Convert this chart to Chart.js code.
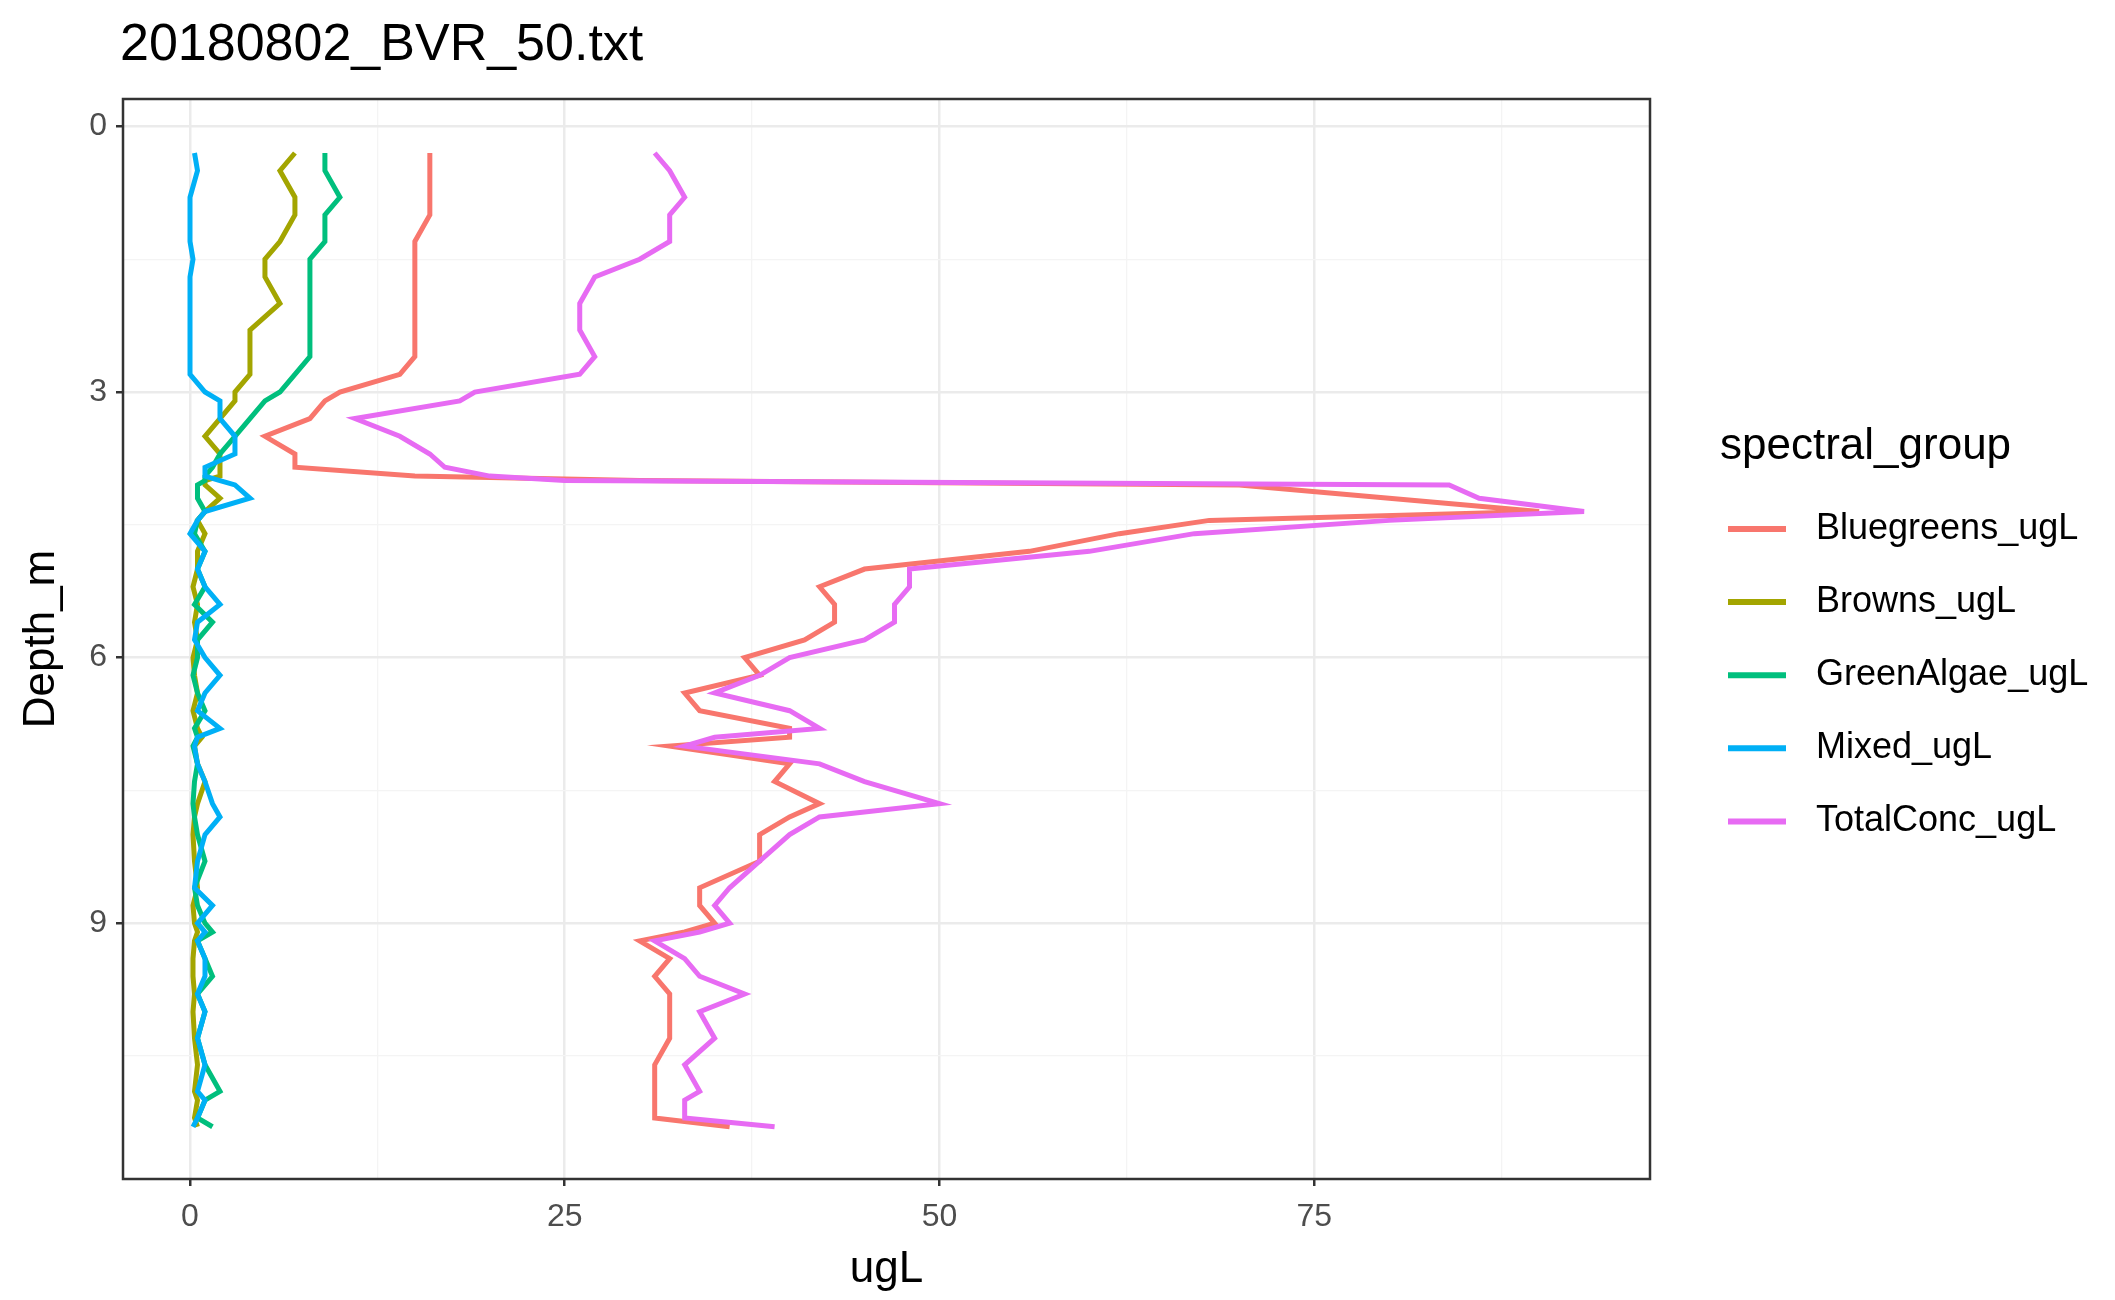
<!DOCTYPE html>
<html><head><meta charset="utf-8">
<script src="https://cdn.jsdelivr.net/npm/chart.js@4"></script>
<style>html,body{margin:0;padding:0;background:#fff}#c{display:block}</style>
</head><body><canvas id="c" width="2115" height="1300"></canvas>
<script>
const depth=[0.3,0.5,0.8,1.0,1.3,1.5,1.7,2.0,2.3,2.6,2.8,3.0,3.1,3.3,3.5,3.7,3.85,3.95,4.0,4.05,4.2,4.35,4.45,4.6,4.8,5.0,5.2,5.4,5.6,5.8,6.0,6.2,6.4,6.6,6.8,6.9,7.0,7.2,7.4,7.65,7.8,8.0,8.3,8.6,8.8,9.0,9.1,9.2,9.4,9.6,9.8,10.0,10.3,10.6,10.9,11.0,11.2,11.3];
const bluegreens=[16,16,16,16,15,15,15,15,15,15,14,10,9,8,5,7,7,15,30,70,80,90,68,62,56,45,42,43,43,41,37,38,33,34,40,40,32,40,39,42,40,38,38,34,34,35,33,30,32,31,32,32,32,31,31,31,31,36];
const browns=[7,6,7,7,6,5,5,6,4,4,4,3,3,2,1,2,2,2,1,1,2,1,0.5,1,0.5,0.5,0.2,0.5,0.3,0.5,0.2,0.3,0.5,0.2,0.5,0.8,0.3,0.5,1,0.5,0.3,0.2,0.3,0.5,0.2,0.3,0.5,0.3,0.2,0.2,0.3,0.2,0.3,0.5,0.3,0.5,0.3,0.5];
const greenAlgae=[9,9,10,9,9,8,8,8,8,8,7,6,5,4,3,2,1.5,1,1,0.5,0.5,1,0.5,0.3,1,0.5,1,0.3,1.5,0.5,0.5,0.2,0.5,1,0.3,0.5,0.2,0.5,0.3,0.2,0.3,0.5,1,0.3,0.5,1,1.5,0.5,1,1.5,0.5,1,0.5,1,2,1,0.5,1.5];
const mixed=[0.3,0.5,0,0,0,0.2,0,0,0,0,0,1,2,2,3,3,1,1,2,3,4,1,0.5,0,1,0.5,1,2,0.5,0.3,1,2,1,0.5,2,0.5,0.3,0.5,1,1.5,2,1,0.5,0.3,1.5,0.5,1,0.5,1,1,0.5,1,0.5,1,0.5,1,0.5,0.2];
const totalConc=[31,32,33,32,32,30,27,26,26,27,26,19,18,11,14,16,17,20,25,84,86,93,80,67,60,48,48,47,47,45,40,38,35,40,42,35,33,42,45,50,42,40,38,36,35,36,34,31,33,34,37,34,35,33,34,33,33,39];
const seriesNames=["Bluegreens_ugL","Browns_ugL","GreenAlgae_ugL","Mixed_ugL","TotalConc_ugL"];
const seriesVals=[bluegreens,browns,greenAlgae,mixed,totalConc];
const colors=["#F8766D","#A3A500","#00BF7D","#00B0F6","#E76BF3"];
const xTicks=[0,25,50,75], yTicks=[0,3,6,9];
const F="Arial, 'Liberation Sans', sans-serif";

const datasets=seriesNames.map((n,i)=>({label:n,data:depth.map((d,j)=>({x:seriesVals[i][j],y:d})),
  borderColor:colors[i],backgroundColor:colors[i],borderWidth:5,pointRadius:0,showLine:true,fill:false,tension:0,order:5-i}));

const deco={id:'deco',
 afterDraw(ch){const c=ch.ctx,a=ch.chartArea;c.save();
  c.strokeStyle='#333';c.lineWidth=2.5;c.strokeRect(a.left,a.top,a.right-a.left,a.bottom-a.top);
  c.fillStyle='#000';c.font='52px '+F;c.textBaseline='middle';c.textAlign='left';
  c.fillText('20180802_BVR_50.txt',120,46);
  c.textAlign='center';c.font='44px '+F;c.fillText('ugL',(a.left+a.right)/2,1270);
  c.save();c.translate(42,(a.top+a.bottom)/2);c.rotate(-Math.PI/2);c.fillText('Depth_m',0,0);c.restore();
  c.textAlign='left';c.font='44px '+F;c.fillText('spectral_group',1720,447);
  c.font='36px '+F;
  seriesNames.forEach((n,i)=>{const y=529+i*73.1;c.strokeStyle=colors[i];c.lineWidth=6;
   c.beginPath();c.moveTo(1728,y);c.lineTo(1786,y);c.stroke();c.fillStyle='#000';c.fillText(n,1816,y);});
  c.restore();}};

const grid=(major)=>({color:ctx=>{const v=ctx.tick&&ctx.tick.value;return major.includes(v)?'#ebebeb':'#f4f4f4';},
  lineWidth:ctx=>{const v=ctx.tick&&ctx.tick.value;return major.includes(v)?2.5:1.3;},
  tickColor:ctx=>{const v=ctx.tick&&ctx.tick.value;return major.includes(v)?'#333':'rgba(0,0,0,0)';},
  tickLength:7,drawOnChartArea:true});

new Chart(document.getElementById('c'),{type:'scatter',data:{datasets},
 options:{responsive:false,animation:false,
  layout:{padding:{left:0,top:99,right:465,bottom:0}},
  plugins:{legend:{display:false},tooltip:{enabled:false}},
  scales:{
   x:{type:'linear',min:-4.47,max:97.4,border:{display:false},grid:grid(xTicks),
     afterBuildTicks:s=>{s.ticks=[0,12.5,25,37.5,50,62.5,75,87.5].map(v=>({value:v}));},
     afterFit:s=>{s.height=121;},
     ticks:{padding:12,color:'#4d4d4d',font:{size:32,family:F},autoSkip:false,maxRotation:0,
       callback:v=>xTicks.includes(v)?String(v):''}},
   y:{type:'linear',reverse:true,min:-0.31,max:11.89,border:{display:false},grid:grid(yTicks),
     afterBuildTicks:s=>{s.ticks=[0,1.5,3,4.5,6,7.5,9,10.5].map(v=>({value:v}));},
     afterFit:s=>{s.width=123;},
     ticks:{padding:9,color:'#4d4d4d',font:{size:32,family:F},autoSkip:false,
       callback:v=>yTicks.includes(v)?String(v):''}}
  }},plugins:[deco]});
</script></body></html>
